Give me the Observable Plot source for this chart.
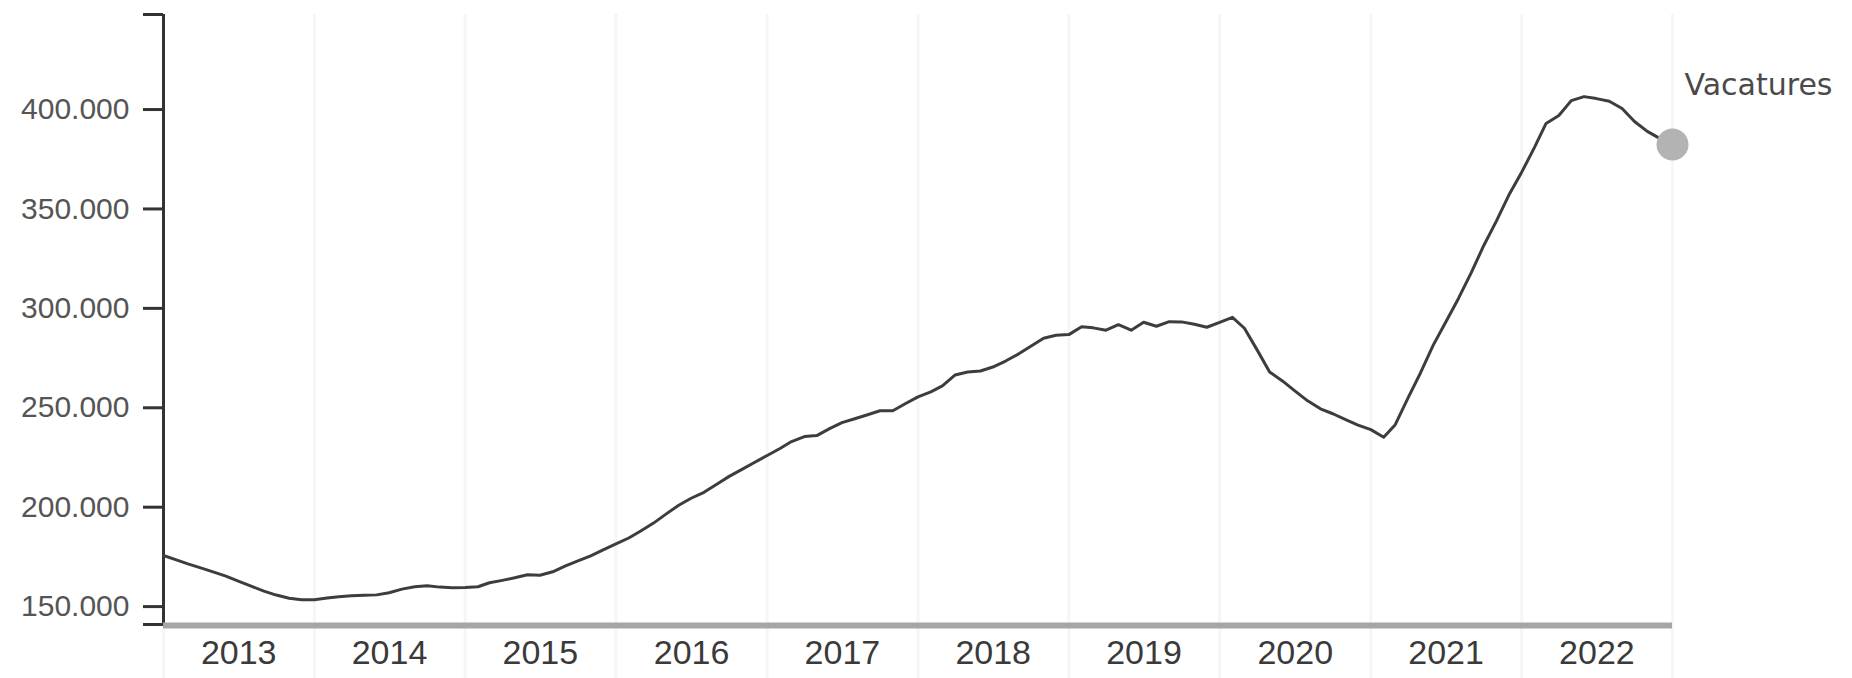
<!DOCTYPE html>
<html>
<head>
<meta charset="utf-8">
<script src="https://cdn.jsdelivr.net/npm/d3@7"></script>
<script src="https://cdn.jsdelivr.net/npm/@observablehq/plot@0.6"></script>
<style>
  html, body { margin: 0; padding: 0; background: #fff; overflow: hidden; }
  #chart svg { display: block; }
</style>
</head>
<body>
<div id="chart"></div>
<script>
// ---- Data (monthly, thousands) ----
const seriesName = "Vacatures";
const firstMonth = "2013-01";
const v2013 = [175.7, 173.5, 171.5, 169.5, 167.5, 165.3, 162.8, 160.3, 157.8, 155.8, 154.2, 153.5];
const v2014 = [153.4, 154.3, 155.0, 155.4, 155.7, 155.9, 157.0, 158.8, 160.0, 160.5, 159.8, 159.5];
const v2015 = [159.6, 160.0, 162.0, 163.2, 164.5, 166.0, 165.8, 167.5, 170.5, 173.0, 175.5, 178.5];
const v2016 = [181.5, 184.5, 188.0, 192.0, 196.5, 201.0, 204.5, 207.5, 211.5, 215.5, 219.0, 222.5];
const v2017 = [226.0, 229.5, 233.0, 235.5, 236.0, 239.5, 242.5, 244.5, 246.5, 248.5, 248.5, 252.0];
const v2018 = [255.5, 258.0, 261.0, 266.5, 268.0, 268.5, 270.5, 273.5, 277.0, 281.0, 285.0, 286.5];
const v2019 = [286.8, 290.8, 290.2, 289.0, 291.8, 289.0, 293.0, 291.0, 293.3, 293.2, 292.0, 290.5];
const v2020 = [293.0, 295.5, 290.0, 279.0, 268.0, 263.5, 258.5, 253.5, 249.5, 247.0, 244.0, 241.3];
const v2021 = [239.0, 235.2, 241.5, 255.0, 267.5, 281.5, 293.0, 305.0, 318.0, 331.5, 344.0, 357.0];
const v2022 = [368.5, 381.0, 393.0, 397.0, 404.5, 406.5, 405.5, 404.2, 400.5, 394.0, 389.0, 385.5];
const v2023 = [382.4];

const yTicks = [150000, 200000, 250000, 300000, 350000, 400000];
const years = [2013, 2014, 2015, 2016, 2017, 2018, 2019, 2020, 2021, 2022];
const yDomain = [141000, 447800];

// ---- Build table ----
const allValues = [].concat(v2013, v2014, v2015, v2016, v2017, v2018, v2019, v2020, v2021, v2022, v2023);
const start = new Date(firstMonth + "-01T00:00:00Z");
const data = allValues.map((v, i) => ({date: d3.utcMonth.offset(start, i), value: v * 1000}));
const last = data[data.length - 1];

const xStart = new Date(Date.UTC(years[0], 0, 1));
const xEnd = new Date(Date.UTC(years[years.length - 1] + 1, 0, 1));
const gridDates = years.concat([years[years.length - 1] + 1]).map(y => new Date(Date.UTC(y, 0, 1)));
const labelDates = years.map(y => new Date(Date.UTC(y, 6, 2)));

const nl = d3.formatLocale({decimal: ",", thousands: ".", grouping: [3], currency: ["€", ""]});
const fmt = nl.format(",.0f");

const W = 1852, H = 678;
const chart = Plot.plot({
  width: W,
  height: H,
  marginLeft: 163,
  marginRight: 180,
  marginTop: 14,
  marginBottom: 54,
  style: {fontFamily: "'Liberation Sans', Arial, sans-serif", background: "#fff", overflow: "visible"},
  x: {type: "utc", domain: [xStart, xEnd]},
  y: {domain: yDomain},
  marks: [
    // vertical year gridlines (extend below the axis)
    Plot.ruleX(gridDates, {stroke: "#f6f6f6", strokeWidth: 3, insetBottom: -54}),
    // y axis with outer ticks at both ends
    Plot.axisY({
      ticks: [yDomain[0]].concat(yTicks, [yDomain[1]]),
      tickFormat: d => (d === yDomain[0] || d === yDomain[1]) ? "" : fmt(d),
      tickSize: 20,
      tickPadding: 14,
      fontSize: 30,
      stroke: "#333",
      strokeWidth: 3,
      fill: "#555",
      label: null
    }),
    Plot.ruleX([xStart], {stroke: "#333", strokeWidth: 3}),
    // x axis: grey baseline, labels centred in each year
    Plot.ruleY([yDomain[0]], {stroke: "#a6a6a6", strokeWidth: 6, dy: 1}),
    Plot.axisX({
      ticks: labelDates,
      tickFormat: d3.utcFormat("%Y"),
      tickSize: 0,
      tickPadding: 15,
      fontSize: 34,
      fill: "#3a3a3a",
      label: null
    }),
    // series line
    Plot.line(data, {x: "date", y: "value", stroke: "#3d3d3d", strokeWidth: 3}),
    // end dot and label
    Plot.dot([last], {x: "date", y: "value", r: 16, fill: "#b3b3b3", stroke: "none"}),
    Plot.text([last], {
      x: "date", y: "value", text: () => seriesName,
      textAnchor: "start", dx: 12, dy: -59,
      fontSize: 30, fontFamily: "'DejaVu Sans', Verdana, sans-serif", fill: "#4a4a4a"
    })
  ]
});
document.getElementById("chart").appendChild(chart);
</script>
</body>
</html>
